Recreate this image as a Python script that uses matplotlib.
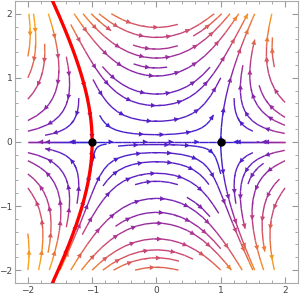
import numpy as np
import matplotlib.pyplot as plt
from matplotlib.colors import LinearSegmentedColormap
from matplotlib.patches import FancyArrowPatch
from matplotlib.ticker import MultipleLocator

# field: conj(1 - z^2)  ->  x' = 1 - x^2 + y^2, y' = 2xy
field_range = [-2, 2]
x_range = [-2.2, 2.2]
y_range = [-2.2, 2.2]
fixed_x = [-1, 1]
fixed_y = [0, 0]
axis_seeds = [[-1.6, 0], [0, 0], [1.9, 0]]
ticks = [-2, -1, 0, 1, 2]
stream_colors = ['#2d1fd6', '#5a1fc4', '#8a25a8', '#bb3a88', '#db5a5a', '#ef7d30', '#f7a41a']

x = np.linspace(field_range[0], field_range[1], 200)
y = np.linspace(field_range[0], field_range[1], 200)
X, Y = np.meshgrid(x, y)
U = 1 - X**2 + Y**2
V = 2 * X * Y
speed = np.sqrt(U**2 + V**2)

cmap = LinearSegmentedColormap.from_list('mma', stream_colors)
norm = plt.Normalize(0, 7.0)

fig = plt.figure(figsize=(3.0, 3.01), dpi=100)
ax = fig.add_axes([0.05, 0.06, 0.943, 0.937])

sp = ax.streamplot(X, Y, U, V, color=speed, cmap=cmap, norm=norm,
                   density=0.85, linewidth=1.0, arrowstyle='-')
sp2 = ax.streamplot(X, Y, U, V, color=speed, cmap=cmap, norm=norm,
                    start_points=axis_seeds, linewidth=1.0, arrowstyle='-')

# put several arrows along each streamline (mathematica style)
lines = []
for coll in [sp.lines, sp2.lines]:
    cur = []
    for s in coll.get_segments():
        if cur and np.allclose(cur[-1], s[0]):
            cur.append(s[1])
        else:
            if len(cur) > 1:
                lines.append(np.array(cur))
            cur = [s[0], s[1]]
    if len(cur) > 1:
        lines.append(np.array(cur))

step = 0.42
for ln in lines:
    d = np.sqrt((np.diff(ln, axis=0)**2).sum(axis=1))
    cum = np.concatenate([[0], np.cumsum(d)])
    total = cum[-1]
    if total < 0.15:
        continue
    for s0 in np.arange(step * 0.6, total - 0.05, step):
        i = np.searchsorted(cum, s0)
        i = min(max(i, 1), len(ln) - 1)
        p0, p1 = ln[i - 1], ln[i]
        if np.allclose(p0, p1):
            continue
        sx, sy = p1
        u = 1 - sx**2 + sy**2
        v = 2 * sx * sy
        c = cmap(norm(np.hypot(u, v)))
        ax.add_patch(FancyArrowPatch(p0, p1, arrowstyle='-|>', mutation_scale=9,
                                     color=c, lw=0, shrinkA=0, shrinkB=0, zorder=3))

# stable manifold of (-1, 0)
ys = np.linspace(y_range[0], y_range[1], 200)
ax.plot(-np.sqrt(1 + ys**2 / 3), ys, color='red', lw=2.4, zorder=5)

ax.plot(fixed_x, fixed_y, 'o', color='black', ms=5, zorder=6)

ax.set_xlim(x_range)
ax.set_ylim(y_range)
ax.set_xticks(ticks)
ax.set_yticks(ticks)
ax.xaxis.set_minor_locator(MultipleLocator(0.2))
ax.yaxis.set_minor_locator(MultipleLocator(0.2))
ax.tick_params(which='both', direction='in', top=True, right=True, colors='#999999',
               labelcolor='#444444', labelsize=6.5, pad=2)
ax.tick_params(which='major', length=4)
ax.tick_params(which='minor', length=2)
for s in ax.spines.values():
    s.set_color('#aaaaaa')

plt.savefig('out.png', dpi=100)
